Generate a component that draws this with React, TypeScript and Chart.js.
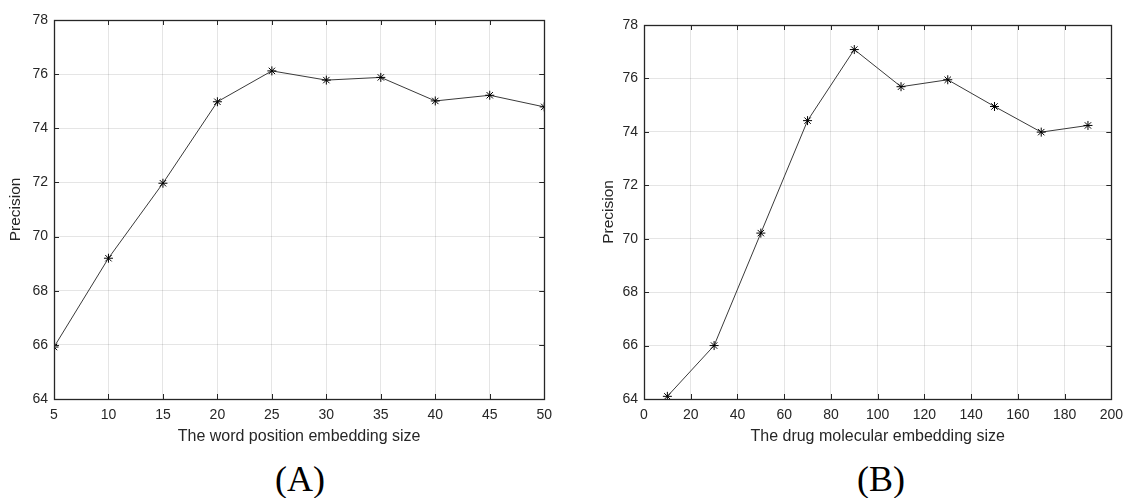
import React, { useEffect, useRef } from "react";
import { Chart, registerables } from "chart.js";

Chart.register(...registerables);

// Panel A: word position embedding size
const wordSizes = [5, 10, 15, 20, 25, 30, 35, 40, 45, 50];
const wordPrecision = [65.92, 69.2, 71.97, 74.98, 76.12, 75.78, 75.88, 75.01, 75.22, 74.79];

// Panel B: drug molecular embedding size
const drugSizes = [10, 30, 50, 70, 90, 110, 130, 150, 170, 190];
const drugPrecision = [64.1, 66.0, 70.21, 74.42, 77.08, 75.69, 75.95, 74.95, 73.99, 74.24];

const yLabel = "Precision";
const xLabelA = "The word position embedding size";
const xLabelB = "The drug molecular embedding size";

const FONT = "Arial, 'Liberation Sans', sans-serif";
const TEXT = "#262626";

const boxPlugin = {
  id: "matlabBox",
  afterDraw(chart: any) {
    const { ctx, chartArea } = chart;
    const { left, right, top, bottom } = chartArea;
    const xs = chart.scales.x;
    const ys = chart.scales.y;
    const tl = 5;
    ctx.save();
    ctx.strokeStyle = TEXT;
    ctx.lineWidth = 1;
    ctx.beginPath();
    xs.ticks.forEach((t: any) => {
      const px = Math.round(xs.getPixelForValue(t.value)) + 0.5;
      ctx.moveTo(px, bottom);
      ctx.lineTo(px, bottom - tl);
      ctx.moveTo(px, top);
      ctx.lineTo(px, top + tl);
    });
    ys.ticks.forEach((t: any) => {
      const py = Math.round(ys.getPixelForValue(t.value)) + 0.5;
      ctx.moveTo(left, py);
      ctx.lineTo(left + tl, py);
      ctx.moveTo(right, py);
      ctx.lineTo(right - tl, py);
    });
    ctx.stroke();
    ctx.lineWidth = 1.3;
    ctx.strokeRect(Math.round(left) + 0.5, Math.round(top) + 0.5, Math.round(right - left), Math.round(bottom - top));
    ctx.restore();
  },
};

function makeConfig(
  xs: number[],
  ys: number[],
  xMin: number,
  xMax: number,
  xStep: number,
  yAxisWidth: number,
  titlePad: number,
  padTop: number,
  padRight: number,
  xTitle: string
): any {
  return {
    type: "line",
    data: {
      datasets: [
        {
          data: xs.map((x, i) => ({ x, y: ys[i] })),
          borderColor: "#3a3a3a",
          borderWidth: 1,
          pointStyle: "star",
          pointRadius: 4.5,
          pointBorderColor: "#000",
          pointBackgroundColor: "#000",
          pointBorderWidth: 1,
          tension: 0,
          fill: false,
        },
      ],
    },
    options: {
      animation: false,
      responsive: false,
      maintainAspectRatio: false,
      layout: { padding: { top: padTop, right: padRight, left: 0, bottom: 0 } },
      plugins: { legend: { display: false }, tooltip: { enabled: false }, title: { display: false } },
      scales: {
        x: {
          type: "linear",
          min: xMin,
          max: xMax,
          afterFit: (s: any) => {
            s.height = 53;
          },
          ticks: {
            stepSize: xStep,
            color: TEXT,
            font: { family: FONT, size: 14 },
            padding: 8,
            maxRotation: 0,
            autoSkip: false,
          },
          grid: { color: "rgba(0,0,0,0.1)", drawTicks: false },
          border: { display: false },
          title: {
            display: true,
            text: xTitle,
            color: TEXT,
            font: { family: FONT, size: 16 },
            padding: { top: 0, bottom: 6 },
          },
        },
        y: {
          type: "linear",
          min: 64,
          max: 78,
          afterFit: (s: any) => {
            s.width = yAxisWidth;
          },
          ticks: {
            stepSize: 2,
            color: TEXT,
            font: { family: FONT, size: 14 },
            padding: 6,
          },
          grid: { color: "rgba(0,0,0,0.1)", drawTicks: false },
          border: { display: false },
          title: {
            display: true,
            text: yLabel,
            color: TEXT,
            font: { family: FONT, size: 15.5 },
            padding: { top: titlePad, bottom: 0 },
          },
        },
      },
    },
    plugins: [boxPlugin],
  };
}

function Panel(props: { config: any; left: number; width: number; height: number }) {
  const ref = useRef<HTMLCanvasElement | null>(null);
  useEffect(() => {
    if (!ref.current) return;
    const chart = new Chart(ref.current, props.config);
    return () => chart.destroy();
  }, []);
  return (
    <canvas
      ref={ref}
      width={props.width}
      height={props.height}
      style={{ position: "absolute", left: props.left, top: 0, width: props.width, height: props.height }}
    />
  );
}

export default function App() {
  const cfgA = makeConfig(wordSizes, wordPrecision, 5, 50, 5, 54, 6, 20, 14, xLabelA);
  const cfgB = makeConfig(drugSizes, drugPrecision, 0, 200, 20, 69, 24, 25, 13, xLabelB);
  const capStyle: React.CSSProperties = {
    position: "absolute",
    top: 461,
    width: 200,
    textAlign: "center",
    fontFamily: "'Liberation Serif', 'Times New Roman', serif",
    fontSize: 36,
    lineHeight: "36px",
    color: "#000",
  };
  return (
    <div style={{ position: "fixed", left: 0, top: 0, width: 1131, height: 498, background: "#fff", overflow: "hidden" }}>
      <Panel config={cfgA} left={0} width={560} height={452} />
      <Panel config={cfgB} left={575} width={556} height={452} />
      <div style={{ ...capStyle, left: 300 - 100 }}>(A)</div>
      <div style={{ ...capStyle, left: 881 - 100 }}>(B)</div>
    </div>
  );
}
